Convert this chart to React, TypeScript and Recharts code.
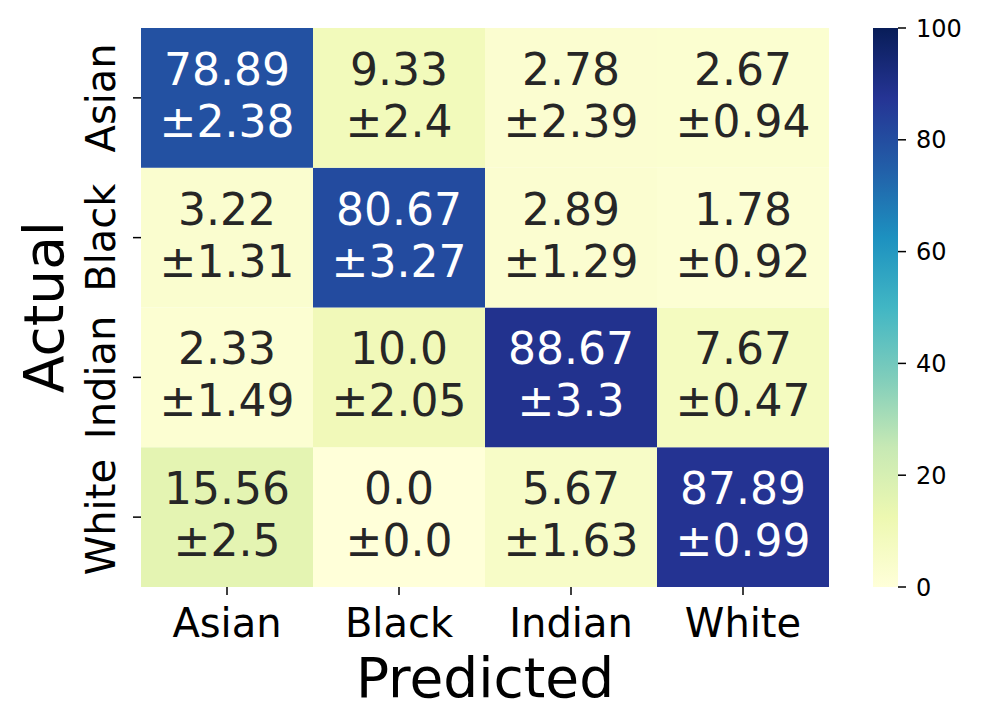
import React from 'react'
import { BarChart, Bar, XAxis, YAxis, Label } from 'recharts'

const predicted = ['Asian', 'Black', 'Indian', 'White']
const actual = ['Asian', 'Black', 'Indian', 'White']
// rows = actual, columns = predicted
const means = [
  [78.89, 9.33, 2.78, 2.67],
  [3.22, 80.67, 2.89, 1.78],
  [2.33, 10.0, 88.67, 7.67],
  [15.56, 0.0, 5.67, 87.89],
]
const stds = [
  [2.38, 2.4, 2.39, 0.94],
  [1.31, 3.27, 1.29, 0.92],
  [1.49, 2.05, 3.3, 0.47],
  [2.5, 0.0, 1.63, 0.99],
]
const colorbarTicks = [0, 20, 40, 60, 80, 100]

const FONT = '"DejaVu Sans", sans-serif'
const YLGNBU = ['#ffffd9', '#edf8b1', '#c7e9b4', '#7fcdbb', '#41b6c4', '#1d91c0', '#225ea8', '#253494', '#081d58']

const hex = (h: string) => [1, 3, 5].map((i) => parseInt(h.slice(i, i + 2), 16))

function cmap(v: number) {
  const t = Math.max(0, Math.min(1, v / 100)) * (YLGNBU.length - 1)
  const i = Math.min(Math.floor(t), YLGNBU.length - 2)
  const f = t - i
  const a = hex(YLGNBU[i])
  const b = hex(YLGNBU[i + 1])
  const c = a.map((x, k) => Math.round(x + (b[k] - x) * f))
  return `rgb(${c[0]},${c[1]},${c[2]})`
}

// python-like str(float)
const fmt = (v: number) => (Number.isInteger(v) ? v.toFixed(1) : String(v))

const data = predicted.map((p) => {
  const row: any = { pred: p }
  actual.forEach((_, i) => (row['a' + i] = 1))
  return row
})

const makeShape = (rowIdx: number) => (props: any) => {
  const { x, y, width, height, index } = props
  const v = means[rowIdx][index]
  const cx = x + width / 2
  const cy = y + height / 2
  const txt = v > 60 ? '#ffffff' : '#262626'
  return (
    <g>
      <rect x={x} y={y} width={width} height={height} fill={cmap(v)} />
      <text x={cx} y={cy - 13} textAnchor="middle" fontSize={44} fill={txt} fontFamily={FONT}>
        {fmt(v)}
      </text>
      <text x={cx} y={cy + 39} textAnchor="middle" fontSize={44} fill={txt} fontFamily={FONT}>
        {'±' + fmt(stds[rowIdx][index])}
      </text>
    </g>
  )
}

const YTick = (props: any) => {
  const { x, y, payload } = props
  const idx = 3 - Math.floor(payload.value)
  return (
    <text
      transform={`translate(${x - 16},${y}) rotate(-90)`}
      textAnchor="middle"
      fontSize={40}
      fill="#000"
      fontFamily={FONT}
    >
      {actual[idx]}
    </text>
  )
}

const XTick = (props: any) => {
  const { x, payload } = props
  return (
    <text x={x} y={637} textAnchor="middle" fontSize={40} fill="#000" fontFamily={FONT}>
      {payload.value}
    </text>
  )
}

export default function App() {
  return (
    <div style={{ position: 'absolute', left: 0, top: 0, width: 985, height: 728, background: '#fff' }}>
      <svg width={0} height={0} style={{ position: 'absolute' }}>
        <defs>
          <linearGradient id="ylgnbu" x1="0" y1="1" x2="0" y2="0">
            {YLGNBU.map((c, i) => (
              <stop key={i} offset={i / (YLGNBU.length - 1)} stopColor={c} />
            ))}
          </linearGradient>
        </defs>
      </svg>

      <div style={{ position: 'absolute', left: 0, top: 0 }}>
        <BarChart
          width={985}
          height={728}
          data={data}
          barCategoryGap={0}
          margin={{ top: 28, right: 156, bottom: 81, left: 81 }}
        >
          <XAxis
            dataKey="pred"
            axisLine={false}
            tickSize={8}
            tickLine={{ stroke: '#000', strokeWidth: 1.5 }}
            tick={<XTick />}
            height={60}
            interval={0}
          >
            <Label
              content={(p: any) => (
                <text x={485} y={697} textAnchor="middle" fontSize={55} fill="#000" fontFamily={FONT}>
                  Predicted
                </text>
              )}
            />
          </XAxis>
          <YAxis
            type="number"
            domain={[0, 4]}
            ticks={[0.5, 1.5, 2.5, 3.5]}
            axisLine={false}
            tickSize={8}
            tickMargin={2}
            tickLine={{ stroke: '#000', strokeWidth: 1.5 }}
            tick={<YTick />}
            width={60}
          >
            <Label
              content={() => (
                <text
                  transform="translate(63,307) rotate(-90)"
                  textAnchor="middle"
                  fontSize={55}
                  fill="#000"
                  fontFamily={FONT}
                >
                  Actual
                </text>
              )}
            />
          </YAxis>
          {[3, 2, 1, 0].map((r) => (
            <Bar key={r} dataKey={'a' + r} stackId="m" isAnimationActive={false} shape={makeShape(r)} />
          ))}
        </BarChart>
      </div>

      <div style={{ position: 'absolute', left: 873, top: 0 }}>
        <BarChart
          width={112}
          height={728}
          data={[{ name: 'cb', v: 100 }]}
          barCategoryGap={0}
          margin={{ top: 28, right: 0, bottom: 141, left: 0 }}
        >
          <XAxis dataKey="name" hide />
          <YAxis
            orientation="right"
            type="number"
            domain={[0, 100]}
            ticks={colorbarTicks}
            axisLine={false}
            tickSize={8}
            tickMargin={10}
            tickLine={{ stroke: '#000', strokeWidth: 1.5 }}
            tick={{ fontSize: 24, fill: '#000', fontFamily: FONT }}
            width={87}
          />
          <Bar dataKey="v" fill="url(#ylgnbu)" isAnimationActive={false} />
        </BarChart>
      </div>
    </div>
  )
}
